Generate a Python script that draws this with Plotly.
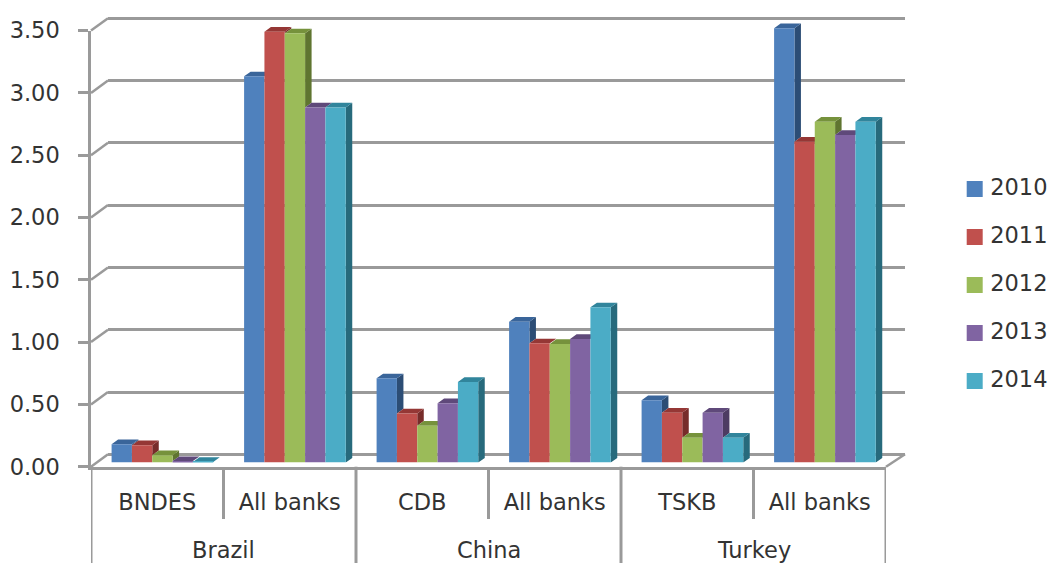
import plotly.graph_objects as go

W, H = 1052, 563
groups = ["Brazil", "China", "Turkey"]
banks = ["BNDES", "All banks", "CDB", "All banks", "TSKB", "All banks"]
years = ["2010", "2011", "2012", "2013", "2014"]
v2010 = [0.147, 3.10, 0.676, 1.131, 0.50, 3.486]
v2011 = [0.139, 3.458, 0.395, 0.957, 0.40, 2.575]
v2012 = [0.059, 3.445, 0.296, 0.952, 0.20, 2.736]
v2013 = [0.012, 2.85, 0.476, 0.992, 0.40, 2.63]
v2014 = [0.005, 2.85, 0.647, 1.246, 0.20, 2.736]
series = [v2010, v2011, v2012, v2013, v2014]
front = ["#4F81BD", "#C0504D", "#9BBB59", "#8064A2", "#4BACC6"]
top = ["#3A659A", "#953735", "#76923C", "#5F497A", "#31859C"]
side = ["#2C4D75", "#772C2A", "#5F7530", "#4D3B62", "#276A7C"]
ticks = [0, 0.5, 1, 1.5, 2, 2.5, 3, 3.5]
GREY = "#9A9A9A"
TXT = "#333333"
FONT = "DejaVu Sans"
FS = 22.5

# pixel layout of the pseudo-3D planes
X0, X1 = 91, 886        # front plane
BX0, BX1 = 108, 905     # back wall
PX_UNIT = 124.6
Y_FRONT, Y_BAR, Y_BACK = 466.7, 462.6, 454.3
CAT_PX = (X1 - X0) / 6
BAR_W = 20.33 / CAT_PX
BAR_START = 20.6 / CAT_PX
DX = 6.5 / CAT_PX
DY = 4.7 / PX_UNIT
PAD = 0.05
LW = 2.5


def ydom(y0px, vmin, vmax):
    return [1 - (y0px - vmin * PX_UNIT) / H, 1 - (y0px - vmax * PX_UNIT) / H]


def xdom(a, b):
    return [a / W, b / W]


fig = go.Figure()

# back wall: gridlines only
fig.add_trace(go.Scatter(x=[0], y=[0], xaxis="x", yaxis="y", mode="markers",
                         marker=dict(opacity=0), showlegend=False, hoverinfo="skip"))

# side and top faces
for s, vals in enumerate(series):
    xs_side, ys_side, xs_top, ys_top = [], [], [], []
    for c, v in enumerate(vals):
        xl = c + BAR_START + s * BAR_W
        xr = xl + BAR_W
        nxt = series[s + 1][c] if s < 4 else 0
        if v > nxt:
            xs_side += [xr, xr + DX, xr + DX, xr, xr, None]
            ys_side += [nxt, nxt + DY, v + DY, v, nxt, None]
        xs_top += [xl, xr, xr + DX, xl + DX, xl, None]
        ys_top += [v, v, v + DY, v + DY, v, None]
    for xx, yy, col in ((xs_side, ys_side, side[s]), (xs_top, ys_top, top[s])):
        fig.add_trace(go.Scatter(x=xx, y=yy, xaxis="x2", yaxis="y2", mode="lines",
                                 fill="toself", fillcolor=col, line=dict(width=0),
                                 showlegend=False, hoverinfo="skip"))

# front faces
for s, vals in enumerate(series):
    fig.add_trace(go.Bar(x=[c + 0.5 for c in range(6)], y=vals, name=years[s],
                         xaxis="x3", yaxis="y3", width=BAR_W,
                         offset=BAR_START - 0.5 + s * BAR_W,
                         marker=dict(color=front[s], line=dict(width=0)),
                         showlegend=False))

# front axis carrying the ticks
fig.add_trace(go.Scatter(x=[0], y=[0], xaxis="x4", yaxis="y4", mode="markers",
                         marker=dict(opacity=0), showlegend=False, hoverinfo="skip"))

# legend
fig.add_trace(go.Scatter(x=[0] * 5, y=list(range(5)), xaxis="x5", yaxis="y5",
                         mode="markers", cliponaxis=False,
                         marker=dict(symbol="square", size=16, color=front, line=dict(width=0)),
                         showlegend=False, hoverinfo="skip"))
fig.add_trace(go.Scatter(x=[15.5] * 5, y=list(range(5)), xaxis="x5", yaxis="y5",
                         mode="text", text=years, textposition="middle right",
                         textfont=dict(family=FONT, size=FS, color=TXT), cliponaxis=False,
                         showlegend=False, hoverinfo="skip"))

hidden = dict(visible=False, fixedrange=True)
shapes = []
line = dict(color=GREY, width=LW)
for t in ticks:
    shapes.append(dict(type="line", xref="paper", yref="paper", layer="below", line=line,
                       x0=X0 / W, x1=BX0 / W,
                       y0=1 - (Y_FRONT - t * PX_UNIT) / H, y1=1 - (Y_BACK - t * PX_UNIT) / H))
shapes.append(dict(type="line", xref="paper", yref="paper", layer="below", line=line,
                   x0=X1 / W, x1=BX1 / W, y0=1 - Y_FRONT / H, y1=1 - Y_BACK / H))
for d in (0, 2, 4, 6):
    shapes.append(dict(type="line", xref="x4", yref="paper", line=dict(color=GREY, width=3),
                       x0=d, x1=d, y0=1 - Y_FRONT / H, y1=0))

annotations = [dict(text=g, xref="x4", yref="paper", x=2 * i + 1, y=1 - 549.5 / H,
                    showarrow=False, yanchor="middle",
                    font=dict(family=FONT, size=FS, color=TXT))
               for i, g in enumerate(groups)]

fig.update_layout(
    width=W, height=H, margin=dict(l=0, r=0, t=0, b=0, autoexpand=False),
    paper_bgcolor="white", plot_bgcolor="rgba(0,0,0,0)",
    barmode="overlay", showlegend=False, shapes=shapes, annotations=annotations,
    xaxis=dict(domain=xdom(BX0, BX1), range=[0, 6], **hidden),
    yaxis=dict(domain=ydom(Y_BACK, -PAD, 3.5 + PAD), range=[-PAD, 3.5 + PAD],
               visible=True, fixedrange=True,
               tickmode="array", tickvals=ticks, showticklabels=False, ticks="", showgrid=True,
               gridcolor=GREY, gridwidth=LW, zeroline=False, showline=False),
    xaxis2=dict(domain=xdom(X0, X1 + 30), range=[0, 6 + 30 / CAT_PX], anchor="y2", **hidden),
    yaxis2=dict(domain=ydom(Y_BAR, 0, 3.6), range=[0, 3.6], anchor="x2", **hidden),
    xaxis3=dict(domain=xdom(X0, X1), range=[0, 6], anchor="y3", **hidden),
    yaxis3=dict(domain=ydom(Y_BAR, 0, 3.6), range=[0, 3.6], anchor="x3", **hidden),
    xaxis4=dict(domain=xdom(X0, X1), range=[0, 6], anchor="y4", fixedrange=True,
                tickmode="array", tickvals=[c + 0.5 for c in range(6)], ticktext=banks,
                ticks="", ticklabelstandoff=14, showgrid=False, zeroline=False,
                showline=True, linecolor=GREY, linewidth=LW,
                tickfont=dict(family=FONT, size=FS, color=TXT),
                minor=dict(tickmode="array", tickvals=[1, 3, 5], ticks="outside",
                           ticklen=50, tickwidth=3, tickcolor=GREY, showgrid=False)),
    yaxis4=dict(domain=ydom(Y_FRONT, 0, 3.5), range=[0, 3.5], anchor="x4", fixedrange=True,
                tickmode="array", tickvals=ticks, ticktext=[f"{t:.2f}" for t in ticks],
                ticks="outside", ticklen=10, tickwidth=LW, tickcolor=GREY,
                ticklabelstandoff=14, showgrid=False, zeroline=False,
                showline=True, linecolor=GREY, linewidth=LW,
                tickfont=dict(family=FONT, size=FS, color=TXT)),
    xaxis5=dict(domain=xdom(966, 1052), range=[-8.7, 77.3], anchor="y5", **hidden),
    yaxis5=dict(domain=[1 - 405 / H, 1 - 165 / H], range=[4.5, -0.5], anchor="x5", **hidden),
)

fig.write_html("out.html", config=dict(displayModeBar=False),
               post_script="document.body.style.margin='0';")
